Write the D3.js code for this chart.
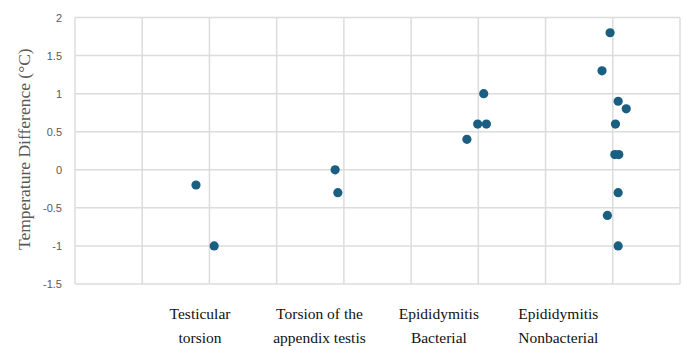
<!DOCTYPE html>
<meta charset="utf-8">
<style>
body { margin: 0; background: #fff; }
.grid line { stroke: #dcdcdc; stroke-width: 1.5px; }
.ytick { font-family: "Liberation Sans", Arial, sans-serif; font-size: 11px; fill: #595959; }
.ytitle { font-family: "Liberation Serif", "Times New Roman", serif; font-size: 17.5px; fill: #595959; }
.cat { font-family: "Liberation Serif", "Times New Roman", serif; font-size: 15.5px; fill: #111; }
</style>
<div id="chart"></div>
<script src="https://d3js.org/d3.v7.min.js"></script>
<script>
  var width = 683, height = 348;

  // category labels (two lines each)
  var categories = [
    ["Testicular", "torsion"],
    ["Torsion of the", "appendix testis"],
    ["Epididymitis", "Bacterial"],
    ["Epididymitis", "Nonbacterial"]
  ];

  // jittered x position, temperature difference
  var xValues = [1.80, 2.07, 3.87, 3.91, 5.83, 5.99, 6.12, 6.08,
                 7.96, 7.84, 8.08, 8.20, 8.04, 8.03, 8.09, 8.08, 7.92, 8.08];
  var yValues = [-0.2, -1.0, 0, -0.3, 0.4, 0.6, 0.6, 1.0,
                 1.8, 1.3, 0.9, 0.8, 0.6, 0.2, 0.2, -0.3, -0.6, -1.0];

  var yTicks = [2, 1.5, 1, 0.5, 0, -0.5, -1, -1.5];
  var xGrid = d3.range(0, 10);

  var margin = {left: 75, right: 3, top: 17.5, bottom: 64};

  var svg = d3.select("#chart").append("svg")
    .attr("width", width)
    .attr("height", height);

  var x = d3.scaleLinear().domain([0, 9]).range([margin.left, width - margin.right]);
  var y = d3.scaleLinear().domain([-1.5, 2]).range([height - margin.bottom, margin.top]);

  var grid = svg.append("g").attr("class", "grid");
  grid.selectAll(".h").data(yTicks).enter().append("line")
    .attr("x1", x(0)).attr("x2", x(9))
    .attr("y1", function(d) { return y(d); })
    .attr("y2", function(d) { return y(d); });
  grid.selectAll(".v").data(xGrid).enter().append("line")
    .attr("y1", y(2)).attr("y2", y(-1.5))
    .attr("x1", function(d) { return x(d); })
    .attr("x2", function(d) { return x(d); });

  svg.selectAll(".ytick").data(yTicks).enter().append("text")
    .attr("class", "ytick")
    .attr("x", 62)
    .attr("y", function(d) { return y(d) + 4; })
    .attr("text-anchor", "end")
    .text(function(d) { return d; });

  svg.append("text")
    .attr("class", "ytitle")
    .attr("transform", "translate(30," + y(0.27) + ") rotate(-90)")
    .attr("text-anchor", "middle")
    .text("Temperature Difference (°C)");

  // category labels sit under the chart, spread between fixed ends
  var labelX = d3.scalePoint()
    .domain(d3.range(categories.length))
    .range([x(1.86), x(7.19)]);

  var cat = svg.selectAll(".cat").data(categories).enter().append("text")
    .attr("class", "cat")
    .attr("text-anchor", "middle");
  cat.each(function(d, i) {
    var t = d3.select(this);
    d.forEach(function(line, j) {
      t.append("tspan")
        .attr("x", labelX(i))
        .attr("y", 319 + j * 23.5)
        .text(line);
    });
  });

  svg.selectAll(".pt").data(xValues).enter().append("circle")
    .attr("class", "pt")
    .attr("cx", function(d) { return x(d); })
    .attr("cy", function(d, i) { return y(yValues[i]); })
    .attr("r", 4.6)
    .attr("fill", "#1a5f82");
</script>
